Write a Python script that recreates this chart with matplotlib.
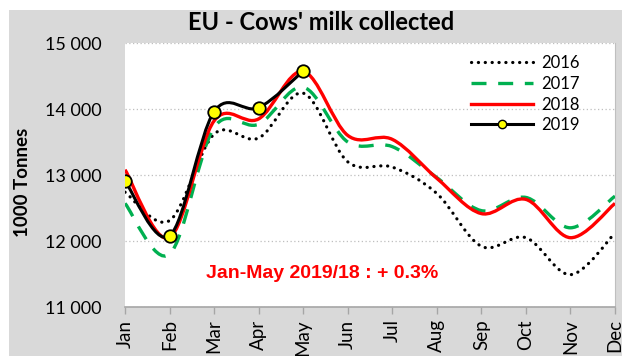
import matplotlib
matplotlib.use("Agg")
import matplotlib.pyplot as plt
import numpy as np
from matplotlib.path import Path
from matplotlib.patches import PathPatch, Rectangle
from matplotlib.lines import Line2D
from matplotlib.ticker import FuncFormatter

months = ["Jan", "Feb", "Mar", "Apr", "May", "Jun",
          "Jul", "Aug", "Sep", "Oct", "Nov", "Dec"]

# monthly cows' milk collected, 1000 tonnes
milk_2016 = [12740, 12310, 13620, 13560, 14240, 13200, 13120, 12720, 11920, 12050, 11490, 12120]
milk_2017 = [12570, 11800, 13720, 13770, 14330, 13500, 13430, 12960, 12460, 12660, 12200, 12680]
milk_2018 = [13080, 12050, 13820, 13850, 14570, 13600, 13540, 12950, 12415, 12630, 12050, 12570]
milk_2019 = [12910, 12077, 13960, 14020, 14575]

note = "Jan-May 2019/18 : + 0.3%"

GREY = "#d9d9d9"


def smooth_path(xs, ys):
    # Catmull-Rom style bezier segments, like a spreadsheet's smoothed line
    xs = np.asarray(xs, float)
    ys = np.asarray(ys, float)
    n = len(xs)
    verts = [(xs[0], ys[0])]
    codes = [Path.MOVETO]
    for i in range(n - 1):
        i0 = max(i - 1, 0)
        i3 = min(i + 2, n - 1)
        c1 = (xs[i] + (xs[i + 1] - xs[i0]) / 6, ys[i] + (ys[i + 1] - ys[i0]) / 6)
        c2 = (xs[i + 1] - (xs[i3] - xs[i]) / 6, ys[i + 1] - (ys[i3] - ys[i]) / 6)
        verts += [c1, c2, (xs[i + 1], ys[i + 1])]
        codes += [Path.CURVE4] * 3
    return Path(verts, codes)


plt.rcParams["font.family"] = ["Lato", "DejaVu Sans"]

fig = plt.figure(figsize=(6.22, 3.56), dpi=100)
fig.patch.set_facecolor("white")
fig.add_artist(Rectangle((9 / 622, 0), 1, 1 - 10 / 356, transform=fig.transFigure,
                         facecolor=GREY, edgecolor="none", zorder=-10))

ax = fig.add_axes([125 / 622, 1 - 307 / 356, 490 / 622, 264 / 356])
ax.set_facecolor("white")

x = np.arange(len(months))

styles = [
    (milk_2016, "2016", dict(color="black", lw=2.3, linestyle=(0, (0.05, 2.1)), capstyle="round")),
    (milk_2017, "2017", dict(color="#00b050", lw=2.4, linestyle=(0, (4.5, 3.5)))),
    (milk_2018, "2018", dict(color="#ff0000", lw=2.4, linestyle="-")),
]
handles = []
for vals, label, st in styles:
    xs = x[:len(vals)]
    patch = PathPatch(smooth_path(xs, vals), fill=False, edgecolor=st["color"],
                      lw=st["lw"], linestyle=st["linestyle"],
                      capstyle=st.get("capstyle", "butt"), zorder=3)
    ax.add_patch(patch)
    handles.append(Line2D([], [], color=st["color"], lw=st["lw"],
                          linestyle=st["linestyle"],
                          dash_capstyle=st.get("capstyle", "butt"), label=label))

x19 = x[:len(milk_2019)]
ax.add_patch(PathPatch(smooth_path(x19, milk_2019), fill=False, edgecolor="black",
                       lw=2.2, zorder=4))
ax.plot(x19, milk_2019, linestyle="none", marker="o", markersize=9,
        markerfacecolor="#ffff00", markeredgecolor="black", markeredgewidth=1.3, zorder=5)
handles.append(Line2D([], [], color="black", lw=2.2, marker="o", markersize=6,
                      markerfacecolor="#ffff00", markeredgecolor="black",
                      markeredgewidth=1.0, label="2019"))

ax.set_xlim(0, 11)
ax.set_ylim(11000, 15000)
ax.set_yticks([11000, 12000, 13000, 14000, 15000])
ax.yaxis.set_major_formatter(FuncFormatter(lambda v, p: f"{int(v):,}".replace(",", " ")))
ax.set_xticks(x)
ax.set_xticklabels(months, rotation=90, fontsize=13.5)
ax.tick_params(axis="y", length=0, pad=17, labelsize=13)
ax.tick_params(axis="x", length=5, width=1, color="#a6a6a6", pad=4)

ax.grid(axis="y", color="#bfbfbf", linestyle=(0, (1, 2)), lw=0.9)
ax.set_axisbelow(True)
for side in ["left", "top"]:
    ax.spines[side].set_visible(False)
ax.spines["bottom"].set_color("#a6a6a6")
ax.spines["bottom"].set_linewidth(1.2)
ax.spines["right"].set_color("#bfbfbf")

ax.text(4.42, 11500, note, color="#ff0000", fontsize=14, fontweight="bold",
        family="Liberation Sans", ha="center", va="center")

ax.legend(handles=handles, loc="upper left", bbox_to_anchor=(0.69, 0.985),
          frameon=False, fontsize=12, handlelength=3.7, handletextpad=0.5,
          labelspacing=0.28, borderpad=0)

fig.text(0.516, 0.938, "EU - Cows' milk collected", ha="center", va="center",
         fontsize=17, fontweight="bold")
fig.text(23 / 622, 0.489, "1000 Tonnes", rotation=90, ha="center", va="center",
         fontsize=13.5, fontweight="bold")

fig.savefig("out.png", dpi=100)
